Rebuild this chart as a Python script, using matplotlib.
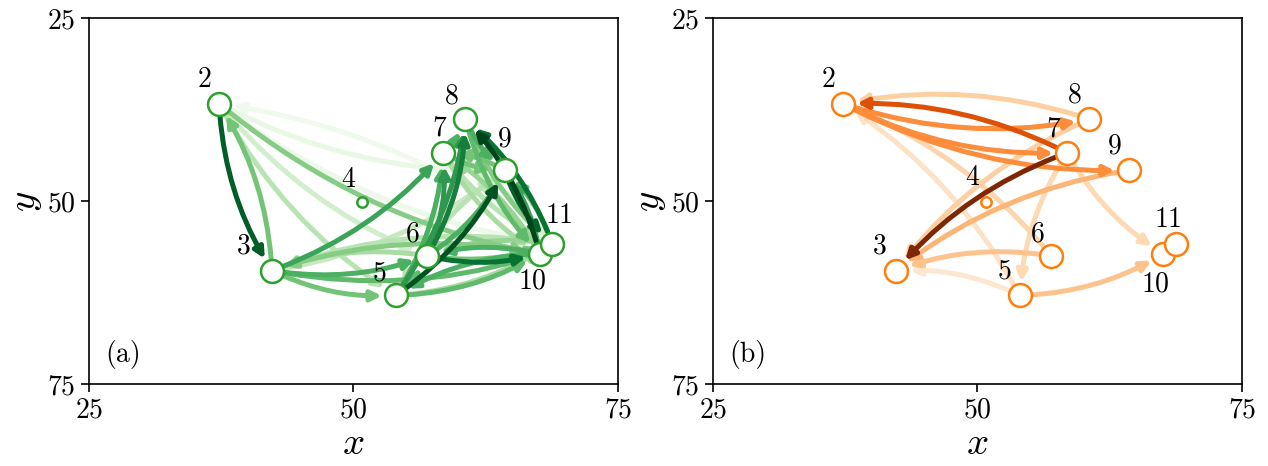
import numpy as np
import matplotlib
matplotlib.use("Agg")
import matplotlib.pyplot as plt
from matplotlib.patches import FancyArrowPatch

plt.rcParams['font.family'] = 'serif'
plt.rcParams['font.serif'] = ['cmr10']
plt.rcParams['mathtext.fontset'] = 'cm'
plt.rcParams['axes.formatter.use_mathtext'] = True

# node ids and positions (x, y)
nodes = [2, 3, 4, 5, 6, 7, 8, 9, 10, 11]
node_x = [37.3, 42.3, 50.8, 54.0, 57.0, 58.5, 60.6, 64.3, 67.6, 68.8]
node_y = [36.7, 59.5, 50.1, 62.9, 57.5, 43.4, 38.8, 45.8, 57.2, 55.8]

# panel (a) edges: source, target, weight
a_src = [2, 3, 2, 2, 2, 2, 2, 11, 3, 3, 3, 3, 3, 6, 10, 11, 5, 5, 5, 5, 5, 10, 5,
         6, 6, 6, 6, 10, 6, 7, 7, 7, 7, 8, 8, 8, 9, 9, 9, 10, 10, 10, 11, 11, 11, 11]
a_dst = [3, 2, 5, 6, 10, 9, 11, 2, 7, 6, 5, 10, 9, 3, 3, 3, 9, 7, 8, 6, 10, 5, 11,
         8, 7, 9, 10, 6, 11, 9, 10, 11, 8, 9, 10, 11, 11, 7, 5, 8, 9, 7, 8, 9, 6, 7]
a_w = [0.92, 0.5, 0.3, 0.2, 0.45, 0.1, 0.08, 0.05, 0.65, 0.6, 0.5, 0.55, 0.25, 0.35, 0.45, 0.3,
       0.95, 0.6, 0.7, 0.55, 0.55, 0.6, 0.35,
       0.8, 0.7, 0.6, 0.85, 0.6, 0.5, 0.5, 0.35, 0.3, 0.6, 0.6, 0.55, 0.45, 0.9, 0.5, 0.3,
       1.0, 0.65, 0.4, 0.85, 0.55, 0.4, 0.2]

# panel (b) edges
b_src = [7, 7, 2, 8, 2, 2, 9, 8, 6, 5, 5, 7, 7, 6, 5]
b_dst = [3, 2, 8, 2, 7, 9, 3, 3, 3, 3, 10, 10, 5, 2, 2]
b_w = [1.0, 0.72, 0.5, 0.25, 0.5, 0.5, 0.35, 0.25, 0.3, 0.12, 0.3, 0.2, 0.2, 0.22, 0.15]

# label offsets in pixels
a_off = {2: (-15, 24), 3: (-28, 24), 4: (-14, 22), 5: (-16, 22), 6: (-15, 22), 7: (-4, 24),
         8: (-14, 23), 9: (0, 31), 10: (-7, -28), 11: (7, 28)}
b_off = {2: (-15, 24), 3: (-16, 24), 4: (-14, 24), 5: (-15, 24), 6: (-14, 22), 7: (-14, 23),
         8: (-15, 24), 9: (-14, 24), 10: (-8, -31), 11: (-8, 24)}

fig = plt.figure(figsize=(12.68, 4.66), dpi=100)
ax1 = fig.add_axes([0.0702, 0.176, 0.417, 0.785])
ax2 = fig.add_axes([0.5623, 0.176, 0.417, 0.785])

pos = {n: (x, y) for n, x, y in zip(nodes, node_x, node_y)}


def draw_panel(ax, src, dst, w, cmap, ncolor, off, tag):
    ax.set_xlim(25, 75)
    ax.set_ylim(75, 25)
    order = np.argsort(w)
    for i in order:
        c = cmap(w[i])
        arr = FancyArrowPatch(pos[src[i]], pos[dst[i]], connectionstyle='arc3,rad=0.13',
                              arrowstyle='-|>', mutation_scale=15, lw=3.6, color=c,
                              shrinkA=9, shrinkB=10, zorder=1)
        ax.add_patch(arr)
    for n in nodes:
        ms = 7.5 if n == 4 else 16.5
        ax.plot(pos[n][0], pos[n][1], 'o', ms=ms, mfc='white', mec=ncolor, mew=1.8, zorder=3)
        ax.annotate(str(n), pos[n], xytext=off[n], textcoords='offset pixels',
                    ha='center', va='center', fontsize=20)
    ax.text(0.065, 0.08, tag, transform=ax.transAxes, ha='center', va='center', fontsize=20)
    ax.set_xticks([25, 50, 75])
    ax.set_yticks([25, 50, 75])
    ax.tick_params(labelsize=20, length=6, width=1.2)
    ax.set_xlabel('$x$', fontsize=28, labelpad=2)
    ax.set_ylabel('$y$', fontsize=28, labelpad=2)
    for s in ax.spines.values():
        s.set_linewidth(1.2)


draw_panel(ax1, a_src, a_dst, a_w, plt.cm.Greens, '#2ca02c', a_off, '(a)')
draw_panel(ax2, b_src, b_dst, b_w, plt.cm.Oranges, '#ff7f0e', b_off, '(b)')

fig.savefig('out.png', dpi=100)
